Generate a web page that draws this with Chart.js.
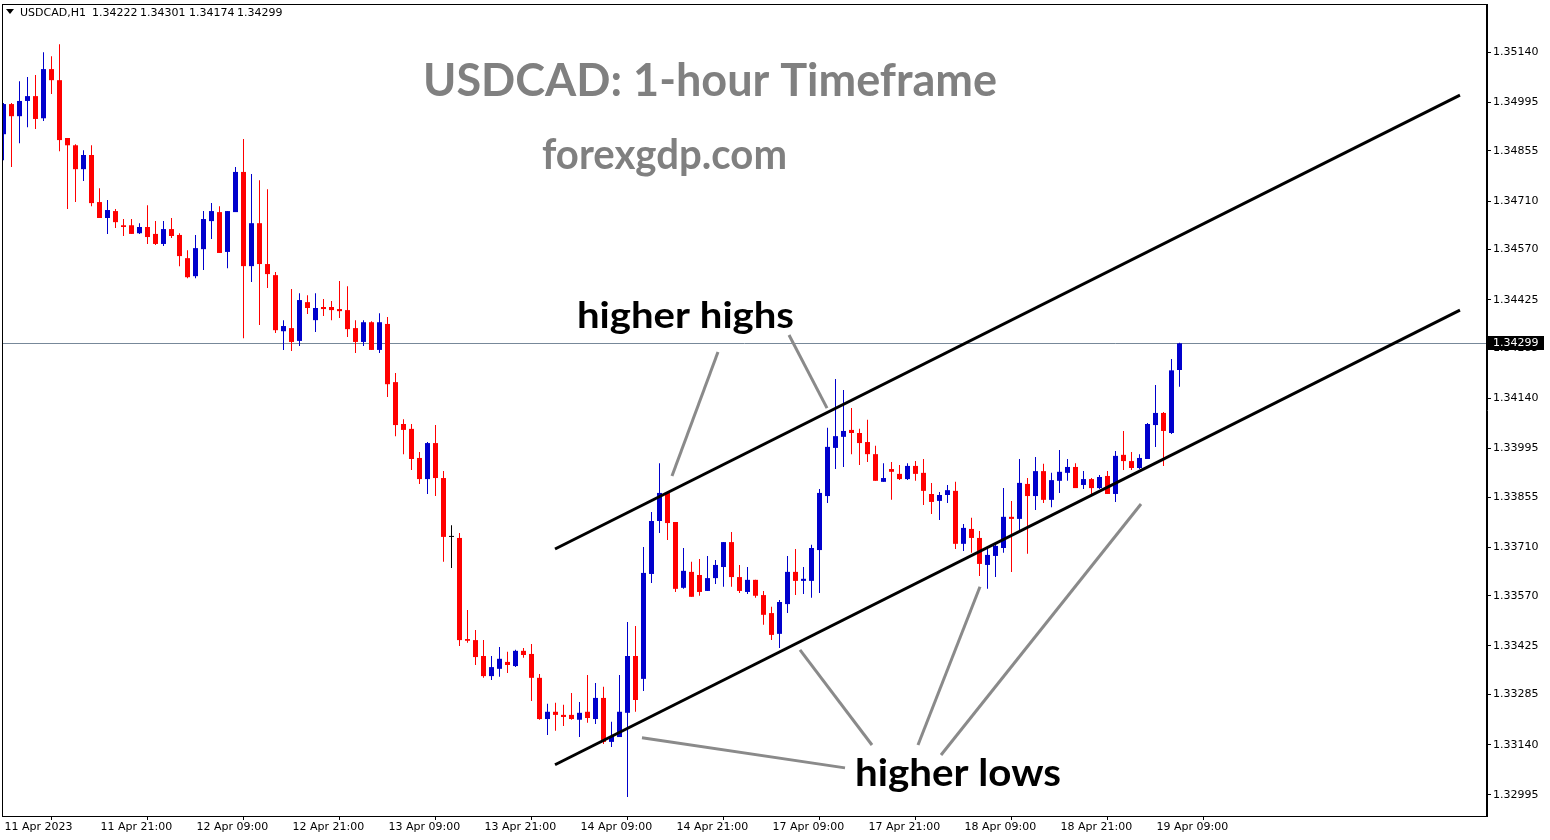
<!DOCTYPE html>
<html>
<head>
<meta charset="utf-8">
<script src="https://cdn.jsdelivr.net/npm/chart.js@4.4.0/dist/chart.umd.min.js"></script>
<style>
  body { margin: 0; background: #fff; }
  canvas { display: block; }
</style>
</head>
<body>
<canvas id="myChart" width="1550" height="840"></canvas>
<script>
// USDCAD H1 candles, 11 Apr 09:00 .. 19 Apr 12:00
var opens = [
  1.34903,1.34990,1.34955,1.34999,1.35013,1.34949,1.35091,1.35059,1.34892,1.34871,
  1.34802,1.34843,1.34707,1.34661,1.34681,1.34640,1.34640,1.34617,1.34635,1.34615,
  1.34586,1.34629,1.34612,1.34545,1.34493,1.34571,1.34652,1.34678,1.34563,1.34678,
  1.34794,1.34522,1.34646,1.34528,1.34496,1.34334,1.34343,1.34306,1.34418,1.34366,
  1.34404,1.34404,1.34398,1.34395,1.34343,1.34303,1.34360,1.34280,1.34355,1.34187,
  1.34066,1.34052,1.33968,1.33907,1.34011,1.33910,1.33740,1.33737,1.33445,1.33442,
  1.33396,1.33338,1.33359,1.33379,1.33367,1.33411,1.33402,1.33333,1.33214,1.33235,
  1.33226,1.33226,1.33212,1.33235,1.33214,1.33275,1.33148,1.33162,1.33232,1.33396,
  1.33330,1.33633,1.33786,1.33867,1.33783,1.33593,1.33639,1.33630,1.33584,1.33621,
  1.33653,1.33725,1.33624,1.33581,1.33616,1.33572,1.33520,1.33460,1.33546,1.33639,
  1.33613,1.33613,1.33702,1.33858,1.33997,1.34029,1.34049,1.34040,1.34014,1.33979,
  1.33899,1.33936,1.33922,1.33907,1.33945,1.33925,1.33864,1.33844,1.33861,1.33873,
  1.33720,1.33763,1.33737,1.33659,1.33685,1.33708,1.33798,1.33792,1.33893,1.33858,
  1.33930,1.33847,1.33902,1.33925,1.33942,1.33890,1.33907,1.33881,1.33916,1.33864,
  1.33977,1.33959,1.33939,1.33965,1.34063,1.34098,1.34040,1.34222
];
var highs = [
  1.34993,1.34993,1.35056,1.35068,1.35074,1.35140,1.35128,1.35163,1.34892,1.34874,
  1.34857,1.34871,1.34747,1.34713,1.34687,1.34658,1.34658,1.34646,1.34698,1.34652,
  1.34652,1.34661,1.34617,1.34568,1.34612,1.34681,1.34704,1.34695,1.34681,1.34808,
  1.34889,1.34788,1.34770,1.34744,1.34505,1.34366,1.34456,1.34444,1.34438,1.34444,
  1.34427,1.34421,1.34479,1.34464,1.34366,1.34366,1.34363,1.34386,1.34375,1.34213,
  1.34080,1.34066,1.33985,1.34014,1.34063,1.33930,1.33774,1.33751,1.33529,1.33471,
  1.33442,1.33396,1.33422,1.33408,1.33414,1.33419,1.33431,1.33344,1.33258,1.33261,
  1.33255,1.33289,1.33263,1.33341,1.33318,1.33307,1.33206,1.33341,1.33494,1.33483,
  1.33711,1.33812,1.33953,1.33870,1.33783,1.33708,1.33668,1.33676,1.33685,1.33673,
  1.33725,1.33754,1.33659,1.33653,1.33616,1.33584,1.33538,1.33558,1.33685,1.33705,
  1.33653,1.33717,1.33878,1.34055,1.34196,1.34164,1.34112,1.34052,1.34078,1.34003,
  1.33953,1.33956,1.33948,1.33953,1.33959,1.33965,1.33896,1.33870,1.33890,1.33899,
  1.33777,1.33795,1.33757,1.33711,1.33725,1.33881,1.33844,1.33965,1.33910,1.33971,
  1.33951,1.33925,1.33991,1.33965,1.33953,1.33930,1.33910,1.33919,1.33930,1.33988,
  1.34046,1.33985,1.33979,1.34069,1.34179,1.34101,1.34254,1.34301
];
var lows = [
  1.34828,1.34808,1.34877,1.34923,1.34918,1.34941,1.35019,1.34854,1.34687,1.34707,
  1.34768,1.34695,1.34661,1.34615,1.34632,1.34609,1.34615,1.34615,1.34586,1.34583,
  1.34580,1.34603,1.34522,1.34487,1.34487,1.34511,1.34600,1.34560,1.34516,1.34678,
  1.34314,1.34476,1.34352,1.34459,1.34329,1.34280,1.34277,1.34291,1.34384,1.34332,
  1.34378,1.34366,1.34372,1.34317,1.34271,1.34291,1.34280,1.34271,1.34144,1.34031,
  1.33979,1.33933,1.33893,1.33864,1.33858,1.33668,1.33650,1.33425,1.33434,1.33370,
  1.33333,1.33327,1.33336,1.33347,1.33364,1.33391,1.33266,1.33212,1.33168,1.33180,
  1.33194,1.33212,1.33162,1.33203,1.33200,1.33142,1.33133,1.33162,1.32989,1.33235,
  1.33295,1.33607,1.33751,1.33731,1.33581,1.33590,1.33567,1.33570,1.33584,1.33604,
  1.33596,1.33596,1.33578,1.33575,1.33564,1.33486,1.33442,1.33419,1.33520,1.33572,
  1.33575,1.33564,1.33578,1.33838,1.33936,1.33942,1.33979,1.33948,1.33956,1.33902,
  1.33899,1.33847,1.33904,1.33904,1.33902,1.33832,1.33806,1.33789,1.33838,1.33705,
  1.33699,1.33694,1.33627,1.33590,1.33624,1.33694,1.33639,1.33757,1.33691,1.33818,
  1.33838,1.33826,1.33867,1.33902,1.33881,1.33878,1.33861,1.33878,1.33864,1.33841,
  1.33933,1.33933,1.33936,1.33965,1.34000,1.33945,1.34037,1.34174
];
var closes = [
  1.34990,1.34955,1.34999,1.35013,1.34947,1.35091,1.35059,1.34886,1.34871,1.34802,
  1.34843,1.34704,1.34661,1.34684,1.34649,1.34635,1.34615,1.34635,1.34606,1.34586,
  1.34629,1.34609,1.34551,1.34490,1.34574,1.34658,1.34681,1.34560,1.34681,1.34794,
  1.34522,1.34646,1.34528,1.34499,1.34337,1.34349,1.34303,1.34424,1.34401,1.34401,
  1.34398,1.34395,1.34392,1.34340,1.34303,1.34360,1.34280,1.34360,1.34181,1.34063,
  1.34049,1.33965,1.33907,1.34011,1.33910,1.33740,1.33740,1.33442,1.33440,1.33393,
  1.33338,1.33364,1.33388,1.33370,1.33411,1.33399,1.33333,1.33214,1.33235,1.33226,
  1.33220,1.33214,1.33232,1.33217,1.33275,1.33148,1.33165,1.33235,1.33396,1.33269,
  1.33636,1.33786,1.33867,1.33780,1.33590,1.33642,1.33567,1.33581,1.33621,1.33659,
  1.33725,1.33624,1.33584,1.33616,1.33570,1.33515,1.33457,1.33552,1.33639,1.33613,
  1.33619,1.33708,1.33867,1.34000,1.34031,1.34046,1.34040,1.34011,1.33979,1.33902,
  1.33910,1.33928,1.33907,1.33945,1.33922,1.33873,1.33841,1.33861,1.33875,1.33720,
  1.33766,1.33737,1.33662,1.33688,1.33714,1.33798,1.33792,1.33896,1.33858,1.33930,
  1.33847,1.33904,1.33928,1.33942,1.33881,1.33907,1.33881,1.33913,1.33864,1.33974,
  1.33959,1.33939,1.33968,1.34066,1.34098,1.34046,1.34221,1.34299
];

// axis ticks (one label every 12 bars)
var xTickLabels = ['11 Apr 2023', '11 Apr 21:00', '12 Apr 09:00', '12 Apr 21:00', '13 Apr 09:00',
  '13 Apr 21:00', '14 Apr 09:00', '14 Apr 21:00', '17 Apr 09:00', '17 Apr 21:00',
  '18 Apr 09:00', '18 Apr 21:00', '19 Apr 09:00'];
var xTickBars = [0, 12, 24, 36, 48, 60, 72, 84, 96, 108, 120, 132, 144];
var yTicks = [1.35140, 1.34995, 1.34855, 1.34710, 1.34570, 1.34425, 1.34285, 1.34140,
  1.33995, 1.33855, 1.33710, 1.33570, 1.33425, 1.33285, 1.33140, 1.32995];

// drawn channel and pointer lines, [bar index, price]
var channelUpper = [[68.94, 1.33705], [182.06, 1.35016]];
var channelLower = [[68.94, 1.33082], [182.06, 1.34395]];
var pointers = [
  [[89.31, 1.34274], [83.56, 1.33916]],
  [[98.19, 1.34323], [102.94, 1.34112]],
  [[79.81, 1.33160], [105.19, 1.33073]],
  [[99.56, 1.33414], [108.56, 1.33139]],
  [[122.06, 1.33596], [114.31, 1.33139]],
  [[142.19, 1.33835], [117.19, 1.33110]]
];

var BULL = '#0000cc', BEAR = '#ff0000', DOJI = '#000000';

var wicks = [], bodies = [], colors = [];
for (var i = 0; i < opens.length; i++) {
  wicks.push({ x: i, y: [lows[i], highs[i]] });
  bodies.push({ x: i, y: [opens[i], closes[i]] });
  colors.push(closes[i] > opens[i] ? BULL : (closes[i] < opens[i] ? BEAR : DOJI));
}

function seg(pts) {
  return pts.map(function (p) { return { x: p[0], y: p[1] }; });
}

var datasets = [
  { type: 'line', data: seg(channelUpper), borderColor: '#000', borderWidth: 3, pointRadius: 0, order: 0 },
  { type: 'line', data: seg(channelLower), borderColor: '#000', borderWidth: 3, pointRadius: 0, order: 0 }
];
pointers.forEach(function (p) {
  datasets.push({ type: 'line', data: seg(p), borderColor: '#8a8a8a', borderWidth: 3, pointRadius: 0, order: 0 });
});
datasets.push({ type: 'bar', data: bodies, backgroundColor: colors, grouped: false, maxBarThickness: 5, minBarLength: 1, order: 1 });
datasets.push({ type: 'bar', data: wicks, backgroundColor: colors, grouped: false, maxBarThickness: 1, order: 2 });

function fitText(ctx, str, left, base, size, width, color) {
  ctx.save();
  ctx.font = 'bold ' + size + 'px Lato';
  var w = ctx.measureText(str).width;
  ctx.translate(left, base);
  ctx.scale(width / w, 1);
  ctx.fillStyle = color;
  ctx.textBaseline = 'alphabetic';
  ctx.textAlign = 'left';
  ctx.fillText(str, 0, 0);
  ctx.restore();
}

var overlay = {
  id: 'overlay',
  beforeDatasetsDraw: function (chart) {
    var ctx = chart.ctx, a = chart.chartArea;
    var y = Math.round(chart.scales.y.getPixelForValue(closes[closes.length - 1])) + 0.5;
    ctx.save();
    ctx.strokeStyle = '#778899';
    ctx.lineWidth = 1;
    ctx.beginPath();
    ctx.moveTo(a.left, y);
    ctx.lineTo(a.right, y);
    ctx.stroke();
    ctx.restore();
  },
  afterDraw: function (chart) {
    var ctx = chart.ctx, a = chart.chartArea;
    ctx.save();
    ctx.strokeStyle = '#000';
    ctx.lineWidth = 1;
    ctx.strokeRect(a.left + 0.5, a.top + 0.5, a.right - a.left - 1, a.bottom - a.top);

    // header
    ctx.fillStyle = '#000';
    ctx.beginPath();
    ctx.moveTo(6, 9); ctx.lineTo(14, 9); ctx.lineTo(10, 14); ctx.closePath();
    ctx.fill();
    ctx.font = '11px "DejaVu Sans"';
    ctx.textBaseline = 'middle';
    ctx.fillText('USDCAD,H1', 20, 13);
    var hdr = [opens, highs, lows, closes];
    var hx = [92, 140, 189, 237];
    for (var k = 0; k < 4; k++) {
      ctx.fillText(hdr[k][hdr[k].length - 1].toFixed(5), hx[k], 13);
    }

    // last price tag
    var y = Math.round(chart.scales.y.getPixelForValue(closes[closes.length - 1]));
    ctx.fillStyle = '#000';
    ctx.fillRect(a.right + 1, y - 7, 56, 14);
    ctx.fillStyle = '#fff';
    ctx.fillText(closes[closes.length - 1].toFixed(5), a.right + 6, y);
    ctx.restore();

    fitText(ctx, 'USDCAD: 1-hour Timeframe', 423, 96, 45, 574, '#808080');
    fitText(ctx, 'forexgdp.com', 542, 169, 42, 245, '#808080');
    fitText(ctx, 'higher highs', 577, 328, 37, 217, '#000');
    fitText(ctx, 'higher lows', 855, 786, 38, 206, '#000');
  }
};

var ctx = document.getElementById('myChart').getContext('2d');
var myChart = new Chart(ctx, {
  type: 'bar',
  data: { datasets: datasets },
  options: {
    responsive: false,
    devicePixelRatio: 1,
    animation: false,
    layout: { padding: { left: 2, top: 4, right: 0, bottom: 0 } },
    plugins: { legend: { display: false }, tooltip: { enabled: false } },
    scales: {
      x: {
        type: 'linear',
        offset: false,
        min: -0.1875,
        max: 185.4375,
        grid: { drawOnChartArea: false, tickLength: 4, color: '#000' },
        border: { color: '#000' },
        ticks: {
          autoSkip: false, maxRotation: 0, align: 'start', padding: 1, labelOffset: 1,
          color: '#000', font: { family: 'DejaVu Sans', size: 11 },
          callback: function (v, idx) { return xTickLabels[idx]; }
        },
        afterBuildTicks: function (s) { s.ticks = xTickBars.map(function (v) { return { value: v }; }); },
        afterFit: function (s) { s.height = 24; s.paddingLeft = 0; s.paddingRight = 0; }
      },
      y: {
        type: 'linear',
        position: 'right',
        min: 1.32934,
        max: 1.35279,
        grid: { drawOnChartArea: false, tickLength: 4, color: '#000' },
        border: { color: '#000' },
        ticks: {
          padding: 2, crossAlign: 'near', color: '#000',
          font: { family: 'DejaVu Sans', size: 11 },
          callback: function (v) { return v.toFixed(5); }
        },
        afterBuildTicks: function (s) { s.ticks = yTicks.map(function (v) { return { value: v }; }); },
        afterFit: function (s) { s.width = 63; s.paddingTop = 0; s.paddingBottom = 0; }
      }
    }
  },
  plugins: [overlay]
});
</script>
</body>
</html>
